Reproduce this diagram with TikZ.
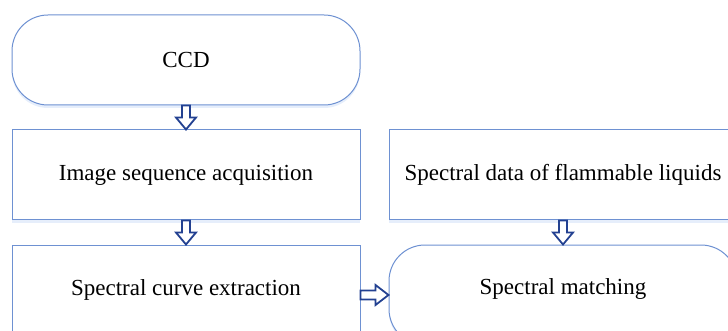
\documentclass[tikz,border=0pt]{standalone}
\usepackage{fontspec}
\setmainfont{Liberation Serif}
\usetikzlibrary{positioning,calc,shadows}
\definecolor{boxline}{RGB}{110,145,210}
\definecolor{arrowblue}{RGB}{35,65,145}
\definecolor{shadowblue}{RGB}{205,222,248}
\tikzset{
  basebox/.style={rectangle,draw=boxline,line width=1pt,fill=white,align=center,
    font=\fontsize{23}{27}\selectfont,minimum width=348pt,minimum height=90pt,
    drop shadow={shadow xshift=0pt,shadow yshift=-3pt,fill=shadowblue}},
  roundbox/.style={basebox,rounded corners=36pt},
  blockarr/.style={draw=arrowblue,line width=1.8pt,fill=white,line join=miter}
}
\newcommand{\downblock}[2]{%
  \draw[blockarr] let \p1=(#1.south), \p2=(#2.north) in
    (\x1-4pt,\y1) -- (\x1-4pt,\y2+12pt) -- (\x1-10pt,\y2+12pt) -- (\x1,\y2)
    -- (\x1+10pt,\y2+12pt) -- (\x1+4pt,\y2+12pt) -- (\x1+4pt,\y1) -- cycle;}
\newcommand{\rightblock}[2]{%
  \draw[blockarr] let \p1=(#1.east), \p2=(#2.west) in
    (\x1,\y1+4.5pt) -- (\x2-13pt,\y1+4.5pt) -- (\x2-13pt,\y1+10pt) -- (\x2,\y1)
    -- (\x2-13pt,\y1-10pt) -- (\x2-13pt,\y1-4.5pt) -- (\x1,\y1-4.5pt) -- cycle;}

\begin{document}
\begin{tikzpicture}
  \path[use as bounding box,clip] (0,0) rectangle (728pt,-331pt);

  \node[roundbox] (ccd) at (186pt,-60pt) {CCD};
  \node[basebox,below=24pt of ccd] (imgseq) {Image sequence acquisition};
  \node[basebox,below=24pt of imgseq,minimum height=100pt] (curve) {};
  \node[basebox,right=28pt of imgseq] (specdata) {Spectral data of flammable liquids};
  \node[roundbox,below=24pt of specdata,minimum height=100pt] (matching) {};

  % texts of the cut-off boxes sit at the visible middle
  \node[font=\fontsize{23}{27}\selectfont] (curvetext) at ($(curve.north)+(0,-45pt)$) {Spectral curve extraction};
  \node[font=\fontsize{23}{27}\selectfont] (matchtext) at ($(matching.north)+(0,-45pt)$) {Spectral matching};

  \downblock{ccd}{imgseq}
  \downblock{imgseq}{curve}
  \downblock{specdata}{matching}
  \rightblock{curve}{matching}
\end{tikzpicture}
\end{document}
